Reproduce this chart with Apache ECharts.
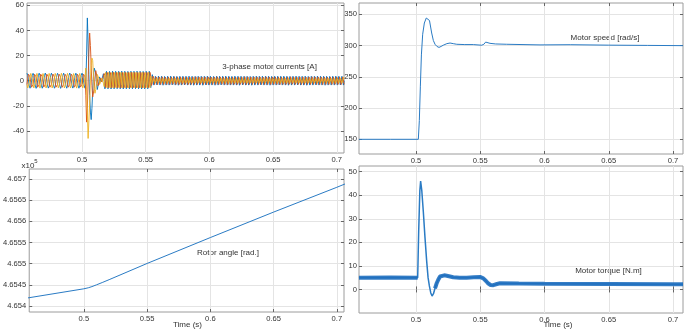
<!DOCTYPE html>
<html>
<head>
<meta charset="utf-8">
<script src="https://cdn.jsdelivr.net/npm/echarts@6.0.0/dist/echarts.min.js"></script>
<style>
  html, body { margin: 0; padding: 0; background: #fff; }
  #chart { width: 685px; height: 331px; }
</style>
</head>
<body>
<div id="chart"></div>
<script>
// phase currents [A], sampled every currentDt seconds from currentT0
const currentT0 = 0.4568
const currentDt = 0.0006

const currentA = [
  // before the speed step (~212 Hz)
  6, 4.2, 0, -4.2, -6, -4.3, 0.1, 4.2,
  5.9, 4.1, 0, -4.2, -6.1, -4.2, 0, 4.3,
  6, 4.2, -0.1, -4.1, -6, -4.2, 0, 4.2,
  6.1, 4.2, 0, -4.3, -5.9, -4.1, 0, 4.2,
  6, 4.3, 0.1, -4.2, -6, -4.2, -0.1, 4.1,
  5.9, 4.2, 0, -4.2, -6.1, -4.3, 0, 4.2,
  6, 4.1, 0, -4.2, -6, -4.2, 0.1, 4.3,
  6.1, 4.2, 0, -4.1, -5.9, -4.2, 0, 4.2,
  6, 4.2, -0.1, -4.2, -6, -4.1, 0, 4.2,
  6, 4.2, 0, -4.2,
  // transient
  -6, -3, 20, 50, 30, 5, -12, -25, -31, -22, -8, 4, 10, 11, 6, -2, -7, -6, -1, 3, 3, -1, -2, 0,
  // 0.517 - 0.556
  5.5, 0.5, -6.5, 0.5,
  7.5, 0.5, -6.5, 0.5, 7.4, 0.6, -6.6, 0.5, 7.6, 0.5, -6.5, 0.4, 7.5, 0.5, -6.4, 0.5,
  7.5, 0.4, -6.5, 0.5, 7.6, 0.5, -6.6, 0.6, 7.5, 0.5, -6.5, 0.5, 7.4, 0.5, -6.5, 0.5,
  7.5, 0.6, -6.5, 0.5, 7.5, 0.5, -6.4, 0.5, 7.6, 0.4, -6.5, 0.5, 7.5, 0.5, -6.6, 0.5,
  7.4, 0.5, -6.5, 0.5, 7.5, 0.5, -6.5, 0.6,
  7.5, 0.5, -5.5, 0.5, 4.8, 0.3,
  // after 0.556
  -3.5, 0, 3.5, 0, -3.4, 0, 3.6, 0, -3.5, 0.1, 3.5, 0, -3.6, 0, 3.4, 0, -3.5, 0, 3.5, -0.1,
  -3.5, 0, 3.6, 0, -3.4, 0, 3.5, 0, -3.5, 0, 3.4, 0.1, -3.6, 0, 3.5, 0, -3.5, 0, 3.5, 0,
  -3.4, 0, 3.5, 0, -3.5, -0.1, 3.6, 0, -3.5, 0, 3.5, 0, -3.6, 0, 3.4, 0, -3.5, 0.1, 3.5, 0,
  -3.5, 0, 3.5, 0, -3.6, 0, 3.5, 0, -3.4, 0, 3.6, 0, -3.5, -0.1, 3.5, 0, -3.5, 0, 3.4, 0,
  -3.6, 0, 3.5, 0.1, -3.5, 0, 3.5, 0, -3.4, 0, 3.5, 0, -3.5, 0, 3.6, 0, -3.5, 0, 3.5, 0,
  -3.5, 0.1, 3.4, 0, -3.5, 0, 3.6, 0, -3.5, 0, 3.5, -0.1, -3.6, 0, 3.5, 0, -3.4, 0, 3.5, 0,
  -3.5, 0, 3.5, 0, -3.5, 0, 3.4, 0, -3.6, 0.1, 3.5, 0, -3.5, 0, 3.6, 0, -3.5, 0, 3.5, -0.1,
  -3.4, 0, 3.6, 0, -3.5, 0, 3.5, 0, -3.5, 0, 3.5, 0, -3.6, 0, 3.4, 0.1, -3.5, 0, 3.5, 0,
  -3.5, 0, 3.5, -0.1, -3.4, 0, 3.5, 0, -3.5, 0, 3.6, 0, -3.5, 0, 3.5, 0, -3.6, 0, 3.4, 0,
  -3.5, 0, 3.5, 0, -3.5, 0.1, 3.6, 0, -3.4, 0, 3.5, 0, -3.5, 0, 3.5, -0.1, -3.5, 0, 3.6, 0,
  -3.6, 0, 3.4, 0, -3.5, 0, 3.5, 0, -3.5, 0, 3.5, 0.1, -3.4, 0, 3.6, 0, -3.5, 0, 3.5, 0,
  -3.5, -0.1, 3.5, 0, -3.6, 0, 3.5, 0, -3.5, 0, 3.4, 0, -3.5, 0.1, 3.5, 0, -3.5, 0, 3.6, 0,
  -3.5, 0, 3.5, 0, -3.4, 0, 3.5, 0, -3.5, 0,
]

const currentB = [
  -3, 1.6, 5.2, 5.8, 3, -1.6, -5.2, -5.8,
  -3.1, 1.6, 5.1, 5.8, 3, -1.7, -5.2, -5.9,
  -3, 1.5, 5.2, 5.8, 3.1, -1.6, -5.1, -5.8,
  -2.9, 1.6, 5.2, 5.9, 3, -1.6, -5.2, -5.8,
  -3, 1.7, 5.3, 5.8, 2.9, -1.6, -5.2, -5.7,
  -3, 1.6, 5.2, 5.8, 3, -1.5, -5.3, -5.8,
  -3.1, 1.6, 5.1, 5.7, 3, -1.6, -5.2, -5.8,
  -3, 1.6, 5.2, 5.8, 3.1, -1.7, -5.2, -5.9,
  -2.9, 1.6, 5.2, 5.8, 3, -1.6, -5.1, -5.8,
  -3, 1.6, 5.2, 5.8,
  3, -12, -33, -22, 0, 22, 38, 28, 12, -4, -13, -12, -6, 3, 8, 7, 2, -4, -5, -1, 2, 2, -1, -2,
  -2, 5.7, 4, -5.6,
  -3, 6.6, 4, -5.6, -3.1, 6.5, 4.1, -5.6, -3, 6.7, 4, -5.5, -2.9, 6.6, 4, -5.6,
  -3, 6.6, 3.9, -5.7, -3, 6.5, 4, -5.6, -3.1, 6.6, 4.1, -5.6, -3, 6.6, 4, -5.5,
  -2.9, 6.7, 4, -5.6, -3, 6.6, 4, -5.7, -3, 6.5, 3.9, -5.6, -3.1, 6.6, 4, -5.6,
  -3, 6.6, 4.1, -5.6, -3, 6.6, 4, -5.5,
  -3, 6.6, 3.5, -3.8, -1.8, 3.6,
  1.8, -3, -1.8, 3, 1.7, -3.1, -1.8, 3, 1.8, -3, -1.9, 3.1, 1.8, -3, -1.8, 2.9, 1.8, -3, -1.7, 3,
  1.9, -3, -1.8, 3, 1.8, -2.9, -1.8, 3.1, 1.7, -3, -1.8, 3, 1.8, -3.1, -1.9, 3, 1.8, -3, -1.8, 3,
  1.8, -3, -1.7, 3, 1.8, -3.1, -1.8, 2.9, 1.9, -3, -1.8, 3, 1.8, -3, -1.8, 3.1, 1.7, -3, -1.8, 3,
  1.8, -2.9, -1.8, 3, 1.8, -3, -1.9, 3, 1.8, -3.1, -1.7, 3, 1.9, -3, -1.8, 2.9, 1.8, -3, -1.8, 3,
  1.7, -3, -1.8, 3.1, 1.8, -3, -1.8, 3, 1.8, -2.9, -1.9, 3, 1.8, -3, -1.8, 3, 1.9, -3.1, -1.7, 3,
  1.8, -3, -1.8, 3, 1.7, -3, -1.8, 2.9, 1.8, -3.1, -1.8, 3, 1.9, -3, -1.9, 3, 1.8, -3, -1.8, 3.1,
  1.8, -3.1, -1.7, 3, 1.8, -3, -1.8, 3, 1.9, -3, -1.8, 3, 1.7, -2.9, -1.8, 3, 1.8, -3, -1.9, 3,
  1.8, -3, -1.8, 2.9, 1.8, -3, -1.8, 3.1, 1.7, -3, -1.8, 3, 1.8, -3.1, -1.8, 3, 1.9, -3, -1.7, 3,
  1.9, -3, -1.8, 3, 1.8, -3.1, -1.8, 3, 1.8, -3, -1.9, 2.9, 1.7, -3, -1.8, 3, 1.8, -3, -1.8, 3.1,
  1.8, -2.9, -1.8, 3, 1.9, -3, -1.7, 3, 1.8, -3, -1.8, 3, 1.8, -3.1, -1.9, 3, 1.7, -3, -1.8, 2.9,
  1.8, -3, -1.9, 3, 1.8, -3, -1.8, 3.1, 1.7, -2.9, -1.8, 3, 1.9, -3, -1.8, 3, 1.8, -3.1, -1.7, 3,
  1.8, -3.1, -1.8, 3, 1.7, -3, -1.8, 2.9, 1.8, -3, -1.9, 3, 1.9, -3, -1.8, 3, 1.8, -2.9, -1.8, 3,
  1.8, -3, -1.8, 3, 1.7, -3.1, -1.8, 3, 1.8, -3,
]

const currentC = [
  -3, -5.8, -5.2, -1.6, 3, 5.8, 5.2, 1.6,
  -2.9, -5.8, -5.3, -1.6, 3.1, 5.8, 5.2, 1.5,
  -3, -5.9, -5.2, -1.6, 3, 5.7, 5.2, 1.6,
  -3.1, -5.8, -5.1, -1.7, 3, 5.8, 5.3, 1.6,
  -3, -5.8, -5.2, -1.5, 2.9, 5.8, 5.2, 1.6,
  -3, -5.7, -5.2, -1.6, 3, 5.9, 5.1, 1.6,
  -2.9, -5.8, -5.3, -1.6, 3.1, 5.8, 5.2, 1.7,
  -3, -5.8, -5.2, -1.6, 3, 5.7, 5.2, 1.6,
  -3.1, -5.9, -5.2, -1.5, 3, 5.8, 5.2, 1.6,
  -3, -5.8, -5.2, -1.6,
  3, 10, 10, -25, -46, -32, -18, 0, 14, 18, 16, 4, -6, -10, -7, -1, 5, 6, 2, -3, -3, 0, 2, 1,
  -2, -4.7, 4, 6.6,
  -3, -5.6, 4, 6.6, -2.9, -5.6, 4.1, 6.5, -3, -5.7, 4, 6.6, -3.1, -5.6, 3.9, 6.6,
  -3, -5.5, 4, 6.7, -3, -5.6, 4.1, 6.6, -2.9, -5.6, 4, 6.5, -3, -5.7, 4, 6.6,
  -3.1, -5.6, 3.9, 6.6, -3, -5.5, 4, 6.7, -3, -5.6, 4.1, 6.6, -2.9, -5.6, 4, 6.6,
  -3, -5.7, 4, 6.5, -3, -5.6, 4, 6.6,
  -3, -5.6, 3.5, 4.8, -1.8, -3.2,
  1.8, 3, -1.8, -3, 1.9, 3, -1.7, -3.1, 1.8, 2.9, -1.8, -3, 1.8, 3.1, -1.9, -3, 1.7, 3, -1.8, -3,
  1.8, 3, -1.8, -2.9, 1.8, 3.1, -1.8, -3, 1.9, 3, -1.7, -3, 1.8, 2.9, -1.8, -3.1, 1.8, 3, -1.9, -3,
  1.7, 3, -1.8, -3, 1.8, 3, -1.9, -3.1, 1.8, 2.9, -1.8, -3, 1.9, 3.1, -1.8, -3, 1.8, 3, -1.7, -3,
  1.8, 3.1, -1.8, -3, 1.9, 3, -1.8, -2.9, 1.7, 3, -1.8, -3, 1.8, 3, -1.9, -3.1, 1.8, 2.9, -1.8, -3,
  1.8, 3, -1.7, -3, 1.8, 2.9, -1.8, -3.1, 1.9, 3, -1.8, -3, 1.7, 3.1, -1.8, -3, 1.8, 3, -1.9, -2.9,
  1.9, 3, -1.8, -3, 1.8, 3, -1.8, -3, 1.7, 3.1, -1.9, -3, 1.8, 2.9, -1.8, -3, 1.8, 3, -1.7, -3.1,
  1.8, 2.9, -1.9, -3, 1.7, 3, -1.8, -3, 1.8, 3.1, -1.8, -2.9, 1.9, 3, -1.8, -3, 1.8, 3, -1.8, -3,
  1.8, 3, -1.8, -3.1, 1.9, 3, -1.7, -3, 1.8, 2.9, -1.8, -3, 1.8, 3, -1.9, -3, 1.7, 3.1, -1.8, -3,
  1.7, 3.1, -1.8, -3, 1.8, 3, -1.8, -2.9, 1.8, 3, -1.9, -3, 1.9, 2.9, -1.8, -3, 1.8, 3, -1.7, -3.1,
  1.8, 3, -1.7, -3, 1.9, 3.1, -1.8, -3, 1.8, 3, -1.8, -3, 1.7, 2.9, -1.9, -3, 1.8, 3, -1.8, -2.9,
  1.9, 2.9, -1.8, -3, 1.8, 3, -1.9, -3.1, 1.7, 3, -1.8, -3, 1.8, 3.1, -1.8, -3, 1.8, 3, -1.7, -3,
  1.8, 3, -1.8, -3, 1.8, 3.1, -1.7, -3, 1.9, 3, -1.8, -2.9, 1.8, 3, -1.9, -3, 1.7, 3, -1.8, -3.1,
  1.8, 3, -1.8, -3, 1.9, 2.9, -1.8, -3, 1.8, 3,
]

// motor speed [rad/s]: [time, value]
const speedData = [
  [0.4556, 150], [0.4800, 150], [0.5018, 150], [0.5026, 180], [0.5034, 235], [0.5042, 285],
  [0.5052, 318], [0.5065, 336], [0.5080, 344], [0.5092, 345.5], [0.5105, 340], [0.5122, 320],
  [0.5135, 308], [0.5148, 302], [0.5163, 298.5], [0.5179, 297], [0.5195, 298.5], [0.5212, 300.5],
  [0.5240, 303], [0.5265, 304], [0.5290, 303], [0.5317, 302], [0.5380, 301.5], [0.5446, 301.5],
  [0.5511, 300.5], [0.5528, 302], [0.5542, 305.5], [0.5555, 306], [0.5576, 303.5], [0.5620, 302.5],
  [0.5706, 302], [0.5965, 301], [0.6200, 301.3], [0.6500, 300.6], [0.6800, 300.2], [0.7078, 299.8],
]

// rotor angle [rad], in units of 1e5
const angleData = [
  [0.4556, 4.654190], [0.5000, 4.654406], [0.5035, 4.654430], [0.5064, 4.654458], [0.5100, 4.654500],
  [0.5150, 4.654560], [0.5200, 4.654622], [0.5500, 4.655005], [0.6000, 4.655617], [0.6500, 4.656219],
  [0.7000, 4.656805], [0.7078, 4.656900],
]

// motor torque [N.m]: [time, value]
const torqueData = [
  [0.4556, 5], [0.4800, 5.1], [0.5013, 5], [0.5021, 25], [0.5030, 42], [0.5036, 46], [0.5045, 42],
  [0.5057, 33], [0.5070, 22], [0.5083, 12], [0.5094, 5], [0.5104, 1.5], [0.5115, -1.5], [0.5125, -2.8],
  [0.5136, -1.8], [0.5148, 0.5], [0.5160, 2.5], [0.5174, 4.2], [0.5187, 5.5], [0.5200, 6.1], [0.5220, 6],
  [0.5239, 5.8], [0.5265, 5.5], [0.5290, 5.2], [0.5340, 5], [0.5394, 5], [0.5450, 5.2], [0.5498, 5.3],
  [0.5524, 4.7], [0.5545, 3.6], [0.5563, 2.5], [0.5580, 1.9], [0.5602, 1.8], [0.5630, 2.3], [0.5654, 2.6],
  [0.5800, 2.5], [0.6000, 2.4], [0.6500, 2.3], [0.7000, 2.2], [0.7078, 2.2],
]

const timeTicks = [0.5, 0.55, 0.6, 0.65, 0.7]
const currentTicks = [-40, -20, 0, 20, 40, 60]
const speedTicks = [150, 200, 250, 300, 350]
const angleTicks = [4.654, 4.6545, 4.655, 4.6555, 4.656, 4.6565, 4.657]
const torqueTicks = [0, 10, 20, 30, 40, 50]

const FONT = '"Liberation Sans", Arial, sans-serif'
const TEXT = '#333'

const grids = [
  { left: 27, top: 3, width: 317, height: 150 },
  { left: 359, top: 3, width: 324, height: 151 },
  { left: 27, top: 169, width: 317, height: 143 },
  { left: 359, top: 166, width: 324, height: 147 },
]
const xRanges = [[0.45683, 0.70565], [0.45564, 0.70778], [0.45683, 0.70565], [0.45564, 0.70778]]
const yRanges = [[-57.6, 61.9], [126.5, 368], [4.653858, 4.657237], [-10, 52.4]]
const yTicks = [currentTicks, speedTicks, angleTicks, torqueTicks]

function makeAxis(gridIndex, range, ticks, position, main, margin) {
  return {
    type: 'value',
    gridIndex,
    position,
    min: range[0],
    max: range[1],
    axisLine: { show: false },
    axisTick: {
      show: true,
      inside: true,
      length: 3,
      customValues: ticks,
      lineStyle: { color: '#666', width: 1 },
    },
    axisLabel: {
      show: main,
      customValues: ticks,
      margin,
      fontSize: 7.6,
      fontFamily: FONT,
      color: TEXT,
      formatter: (v) => String(+Number(v).toFixed(4)),
    },
    splitLine: { show: main, lineStyle: { color: '#e4e4e4', width: 1 } },
  }
}

const xAxes = []
const yAxes = []
grids.forEach((g, i) => xAxes.push(makeAxis(i, xRanges[i], timeTicks, 'bottom', true, 3)))
grids.forEach((g, i) => xAxes.push(makeAxis(i, xRanges[i], timeTicks, 'top', false, 3)))
grids.forEach((g, i) => yAxes.push(makeAxis(i, yRanges[i], yTicks[i], 'left', true, i % 2 ? 2 : 3)))
grids.forEach((g, i) => yAxes.push(makeAxis(i, yRanges[i], yTicks[i], 'right', false, 3)))

const toTime = (vals) => vals.map((v, i) => [currentT0 + i * currentDt, v])

function line(name, idx, data, color, width, opacity = 1) {
  return {
    name,
    type: 'line',
    xAxisIndex: idx,
    yAxisIndex: idx,
    data,
    showSymbol: false,
    symbol: 'none',
    lineStyle: { color, width, opacity },
  }
}

// torque noise band: thick trace everywhere except the thin spike
const torqueBand = torqueData.map((p) => (p[0] <= 0.5013 || p[0] >= 0.5148 ? p : [p[0], null]))

const texts = [
  ['3-phase motor currents [A]', 269.5, 67],
  ['Motor speed [rad/s]', 605, 37.5],
  ['Rotor angle [rad.]', 228, 252.5],
  ['Motor torque [N.m]', 608.5, 271],
  ['Time (s)', 187.5, 325],
  ['Time (s)', 558, 325],
]

const chart = echarts.init(document.getElementById('chart'), null, { renderer: 'canvas' })
chart.setOption({
  animation: false,
  backgroundColor: '#fff',
  grid: grids.map((g) => ({ ...g, show: true, borderColor: '#9c9c9c', borderWidth: 1, backgroundColor: '#fff' })),
  xAxis: xAxes,
  yAxis: yAxes,
  series: [
    line('ia', 0, toTime(currentA), '#0072BD', 0.9),
    line('ib', 0, toTime(currentB), '#D95319', 0.9),
    line('ic', 0, toTime(currentC), '#EDB120', 0.9),
    line('speed', 1, speedData, '#2a7bc4', 1),
    line('angle', 2, angleData, '#2a7bc4', 1),
    line('torque', 3, torqueData, '#2a7bc4', 1.5),
    line('torque band', 3, torqueBand, '#1f6fbf', 4, 0.9),
  ],
  graphic: [
    ...texts.map(([text, x, y]) => ({
      type: 'text',
      x,
      y,
      style: {
        text,
        fill: TEXT,
        font: '8px ' + FONT,
        textAlign: 'center',
        textVerticalAlign: 'middle',
        align: 'center',
        verticalAlign: 'middle',
      },
    })),
    {
      type: 'text', x: 21.5, y: 165.5,
      style: { text: 'x10', fill: TEXT, font: '8px ' + FONT, textVerticalAlign: 'middle', verticalAlign: 'middle' },
    },
    {
      type: 'text', x: 34.2, y: 161.5,
      style: { text: '5', fill: TEXT, font: '6px ' + FONT, textVerticalAlign: 'middle', verticalAlign: 'middle' },
    },
  ],
})
</script>
</body>
</html>
